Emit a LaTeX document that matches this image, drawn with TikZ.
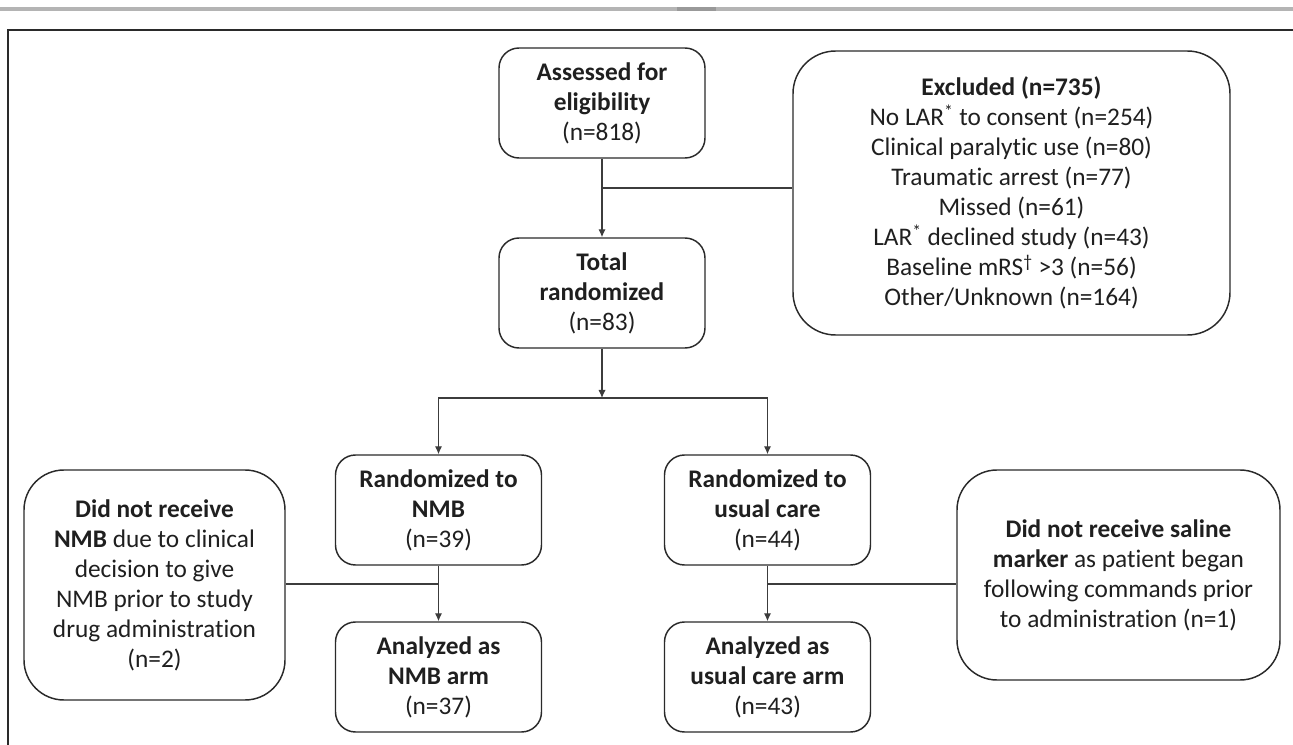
\documentclass[tikz,border=0pt]{standalone}
\usepackage{fontspec}
\setmainfont{Carlito}[RawFeature={-liga;-clig;-calt}]
\usepackage{tikz}
\usetikzlibrary{arrows.meta,calc}
\definecolor{boxline}{HTML}{2A2A2A}
\definecolor{flowline}{HTML}{3C3C3C}
\definecolor{barfill}{HTML}{B4B4B4}
\tikzset{
  stage/.style={draw=boxline, line width=1.1pt, rounded corners=15pt, align=center,
    minimum width=154.5pt, minimum height=82.5pt, inner sep=2pt, text=black!88,
    font=\fontsize{19}{22.5}\selectfont},
  sidebox/.style={stage, rounded corners=30pt},
  flow/.style={draw=flowline, line width=0.9pt},
  flowarr/.style={flow, -{Latex[length=6pt,width=5.5pt]}}
}

\begin{document}
\begin{tikzpicture}[x=0.75pt, y=-0.75pt]
        \useasboundingbox (0,0) rectangle (1293,745);

        % page rule and frame
        \fill[barfill] (0,7) rectangle (1293,11);
        \fill[barfill!85!black] (677,7) rectangle (716,11);
        \draw[boxline, line width=1.5pt] (1293,30) -- (8,30) -- (8,745);

        % enrollment
        \node[stage] (assess) at (602,103) {\textbf{Assessed for}\\\textbf{eligibility}\\(n=818)};
        \node[sidebox, rounded corners=32pt, minimum width=327.75pt, minimum height=213pt] (excl) at (1011.5,193)
            {\textbf{Excluded (n=735)}\\
             No LAR\textsuperscript{*} to consent (n=254)\\
             Clinical paralytic use (n=80)\\
             Traumatic arrest (n=77)\\
             Missed (n=61)\\
             LAR\textsuperscript{*} declined study (n=43)\\
             Baseline mRS\textsuperscript{\textdagger} >3 (n=56)\\
             Other/Unknown (n=164)};
        \node[stage] (total) at (602,293) {\textbf{Total}\\\textbf{randomized}\\(n=83)};

        % allocation
        \node[stage] (rnmb) at (438.5,510) {\textbf{Randomized to}\\\textbf{NMB}\\(n=39)};
        \node[stage] (ruc) at (767.5,510) {\textbf{Randomized to}\\\textbf{usual care}\\(n=44)};
        \node[stage] (anmb) at (438.5,677) {\textbf{Analyzed as}\\\textbf{NMB arm}\\(n=37)};
        \node[stage] (auc) at (767.5,677) {\textbf{Analyzed as}\\\textbf{usual care arm}\\(n=43)};

        \node[sidebox, minimum width=195.75pt, minimum height=172.5pt] (nonmb) at (154.5,585)
            {\textbf{Did not receive}\\
             \textbf{NMB} due to clinical\\
             decision to give\\
             NMB prior to study\\
             drug administration\\
             (n=2)};
        \node[sidebox, minimum width=242.25pt, minimum height=157.5pt] (nosal) at (1118.5,575)
            {\textbf{Did not receive saline}\\
             \textbf{marker} as patient began\\
             following commands prior\\
             to administration (n=1)};

        % connectors
        \coordinate (exclj) at (602,188);
        \coordinate (split) at (602,398);
        \coordinate (nmbj) at (438.5,584);
        \coordinate (ucj) at (767.5,584);

        \draw[flowarr] (assess.south) -- (total.north);
        \draw[flow] (exclj) -- (exclj -| excl.west);
        \draw[flowarr] (total.south) -- (split);
        \draw[flowarr] (split) -| (rnmb.north);
        \draw[flowarr] (split) -| (ruc.north);
        \draw[flowarr] (rnmb.south) -- (anmb.north);
        \draw[flowarr] (ruc.south) -- (auc.north);
        \draw[flow] (nonmb.east |- nmbj) -- (nmbj);
        \draw[flow] (ucj) -- (ucj -| nosal.west);
\end{tikzpicture}
\end{document}
